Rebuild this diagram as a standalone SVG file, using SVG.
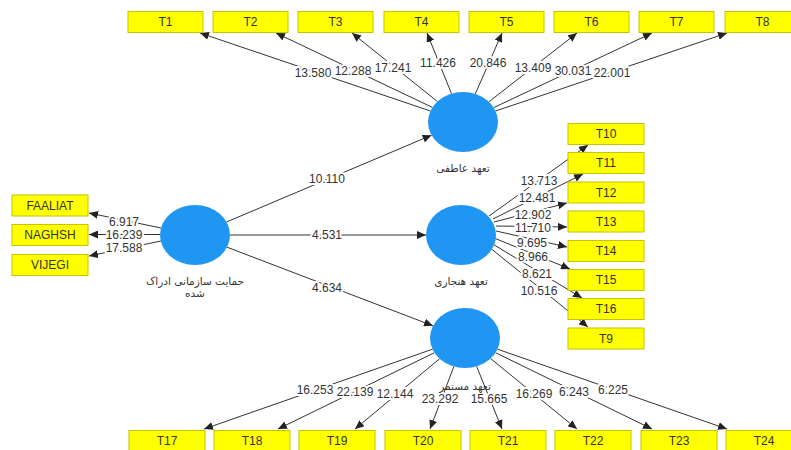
<svg xmlns="http://www.w3.org/2000/svg" width="791" height="450" viewBox="0 0 791 450">
<defs>
<marker id="ah" markerWidth="9" markerHeight="8" refX="9" refY="4" orient="auto" markerUnits="userSpaceOnUse">
<path d="M0,0 L9,4 L0,8 z" fill="#222"/>
</marker>
<style>
.box{fill:#ffff00;stroke:#c4c400;stroke-width:1}
.bt{font-family:"Liberation Sans",Arial,sans-serif;font-size:12px;fill:#333;text-anchor:middle;dominant-baseline:central}
.lv{fill:#1e96f2}
.lt{font-family:"DejaVu Sans",sans-serif;font-size:10.5px;fill:#333;text-anchor:middle}
.c{stroke:#333;stroke-width:1;fill:none;marker-end:url(#ah)}
.w{font-family:"Liberation Sans",Arial,sans-serif;font-size:12px;fill:#333;text-anchor:middle;dominant-baseline:central;stroke:#fff;stroke-width:4;paint-order:stroke;stroke-linejoin:round}
</style>
</defs>
<rect width="791" height="450" fill="#fff"/>
<g id="connectors">
<line class="c" x1="430.4" y1="111" x2="200" y2="33"/>
<line class="c" x1="432.4" y1="107.4" x2="276" y2="33"/>
<line class="c" x1="437.4" y1="101.5" x2="352" y2="33"/>
<line class="c" x1="451.5" y1="93.7" x2="427" y2="33"/>
<line class="c" x1="475.3" y1="93.9" x2="502" y2="33"/>
<line class="c" x1="488.9" y1="101.8" x2="577" y2="33"/>
<line class="c" x1="493.7" y1="107.6" x2="652" y2="33"/>
<line class="c" x1="495.6" y1="111" x2="727" y2="33"/>
<line class="c" x1="226.5" y1="222" x2="431.6" y2="135.2"/>
<line class="c" x1="230" y1="235" x2="426" y2="235"/>
<line class="c" x1="227" y1="247.2" x2="433" y2="325.8"/>
<line class="c" x1="161" y1="228" x2="89" y2="213"/>
<line class="c" x1="160" y1="234.5" x2="89" y2="234.5"/>
<line class="c" x1="161" y1="241" x2="89" y2="256"/>
<line class="c" x1="489" y1="216" x2="588" y2="145"/>
<line class="c" x1="493" y1="219" x2="583" y2="174"/>
<line class="c" x1="494" y1="222" x2="567" y2="203"/>
<line class="c" x1="496" y1="226" x2="567" y2="227"/>
<line class="c" x1="496" y1="231" x2="567" y2="247"/>
<line class="c" x1="494" y1="238" x2="570" y2="269"/>
<line class="c" x1="491" y1="243" x2="582" y2="298"/>
<line class="c" x1="489" y1="247" x2="588" y2="327"/>
<line class="c" x1="432.5" y1="349.2" x2="204" y2="429"/>
<line class="c" x1="434.5" y1="352.7" x2="278" y2="429"/>
<line class="c" x1="439.7" y1="358.7" x2="355" y2="429"/>
<line class="c" x1="453.9" y1="366.5" x2="430" y2="429"/>
<line class="c" x1="476.6" y1="366.3" x2="502" y2="429"/>
<line class="c" x1="490.5" y1="358.5" x2="577" y2="429"/>
<line class="c" x1="495.5" y1="352.7" x2="652" y2="429"/>
<line class="c" x1="497.5" y1="349.2" x2="727" y2="429"/>
<text class="w" x="313" y="73">13.580</text>
<text class="w" x="353" y="71">12.288</text>
<text class="w" x="393" y="68">17.241</text>
<text class="w" x="438" y="63">11.426</text>
<text class="w" x="488" y="63">20.846</text>
<text class="w" x="533" y="68">13.409</text>
<text class="w" x="573" y="71">30.031</text>
<text class="w" x="612" y="73">22.001</text>
<text class="w" x="327" y="179">10.110</text>
<text class="w" x="327" y="235">4.531</text>
<text class="w" x="327" y="288">4.634</text>
<text class="w" x="124" y="222">6.917</text>
<text class="w" x="124" y="234.5">16.239</text>
<text class="w" x="124" y="248">17.588</text>
<text class="w" x="539" y="181">13.713</text>
<text class="w" x="537" y="198">12.481</text>
<text class="w" x="533" y="215">12.902</text>
<text class="w" x="533" y="228">11.710</text>
<text class="w" x="532" y="243">9.695</text>
<text class="w" x="533" y="257">8.966</text>
<text class="w" x="537" y="274">8.621</text>
<text class="w" x="539" y="291">10.516</text>
<text class="w" x="315" y="390">16.253</text>
<text class="w" x="355" y="392">22.139</text>
<text class="w" x="395" y="394">12.144</text>
<text class="w" x="440" y="399">23.292</text>
<text class="w" x="489" y="399">15.665</text>
<text class="w" x="534" y="394">16.269</text>
<text class="w" x="574" y="392">6.243</text>
<text class="w" x="613" y="390">6.225</text>
</g>
<g id="lv-affective">
<ellipse class="lv" cx="463" cy="122" rx="35" ry="30"/>
<text class="lt" x="463" y="172">تعهد عاطفی</text>
</g>
<g id="lv-normative">
<ellipse class="lv" cx="461" cy="235" rx="35" ry="30"/>
<text class="lt" x="461" y="285">تعهد هنجاری</text>
</g>
<g id="lv-continuance">
<ellipse class="lv" cx="465" cy="338" rx="35" ry="30"/>
<text class="lt" x="465" y="390">تعهد مستمر</text>
</g>
<g id="lv-pos">
<ellipse class="lv" cx="195" cy="235" rx="35" ry="30"/>
<text class="lt" x="195" y="285">حمایت سازمانی ادراک</text>
<text class="lt" x="195" y="297">شده</text>
</g>
<g id="T1"><rect class="box" x="128" y="11.5" width="75" height="21"/><text class="bt" x="165.5" y="22">T1</text></g>
<g id="T2"><rect class="box" x="213" y="11.5" width="75" height="21"/><text class="bt" x="250.5" y="22">T2</text></g>
<g id="T3"><rect class="box" x="298" y="11.5" width="75" height="21"/><text class="bt" x="335.5" y="22">T3</text></g>
<g id="T4"><rect class="box" x="384" y="11.5" width="75" height="21"/><text class="bt" x="421.5" y="22">T4</text></g>
<g id="T5"><rect class="box" x="469" y="11.5" width="75" height="21"/><text class="bt" x="506.5" y="22">T5</text></g>
<g id="T6"><rect class="box" x="554" y="11.5" width="75" height="21"/><text class="bt" x="591.5" y="22">T6</text></g>
<g id="T7"><rect class="box" x="639" y="11.5" width="75" height="21"/><text class="bt" x="676.5" y="22">T7</text></g>
<g id="T8"><rect class="box" x="725" y="11.5" width="75" height="21"/><text class="bt" x="762.5" y="22">T8</text></g>
<g id="FAALIAT"><rect class="box" x="12" y="195" width="76" height="21"/><text class="bt" x="50" y="205.5">FAALIAT</text></g>
<g id="NAGHSH"><rect class="box" x="12" y="224.5" width="76" height="21"/><text class="bt" x="50" y="235">NAGHSH</text></g>
<g id="VIJEGI"><rect class="box" x="12" y="254.5" width="76" height="21"/><text class="bt" x="50" y="265">VIJEGI</text></g>
<g id="T10"><rect class="box" x="568" y="123.5" width="76" height="21"/><text class="bt" x="606" y="134">T10</text></g>
<g id="T11"><rect class="box" x="568" y="152.5" width="76" height="21"/><text class="bt" x="606" y="163">T11</text></g>
<g id="T12"><rect class="box" x="568" y="182" width="76" height="21"/><text class="bt" x="606" y="192.5">T12</text></g>
<g id="T13"><rect class="box" x="568" y="211" width="76" height="21"/><text class="bt" x="606" y="221.5">T13</text></g>
<g id="T14"><rect class="box" x="568" y="240.5" width="76" height="21"/><text class="bt" x="606" y="251">T14</text></g>
<g id="T15"><rect class="box" x="568" y="269.5" width="76" height="21"/><text class="bt" x="606" y="280">T15</text></g>
<g id="T16"><rect class="box" x="568" y="298.5" width="76" height="21"/><text class="bt" x="606" y="309">T16</text></g>
<g id="T9"><rect class="box" x="568" y="328" width="76" height="21"/><text class="bt" x="606" y="338.5">T9</text></g>
<g id="T17"><rect class="box" x="129" y="430.5" width="76" height="21"/><text class="bt" x="167" y="441">T17</text></g>
<g id="T18"><rect class="box" x="214" y="430.5" width="76" height="21"/><text class="bt" x="252" y="441">T18</text></g>
<g id="T19"><rect class="box" x="299" y="430.5" width="76" height="21"/><text class="bt" x="337" y="441">T19</text></g>
<g id="T20"><rect class="box" x="385" y="430.5" width="76" height="21"/><text class="bt" x="423" y="441">T20</text></g>
<g id="T21"><rect class="box" x="470" y="430.5" width="76" height="21"/><text class="bt" x="508" y="441">T21</text></g>
<g id="T22"><rect class="box" x="555" y="430.5" width="76" height="21"/><text class="bt" x="593" y="441">T22</text></g>
<g id="T23"><rect class="box" x="641" y="430.5" width="76" height="21"/><text class="bt" x="679" y="441">T23</text></g>
<g id="T24"><rect class="box" x="726" y="430.5" width="76" height="21"/><text class="bt" x="764" y="441">T24</text></g>
</svg>
